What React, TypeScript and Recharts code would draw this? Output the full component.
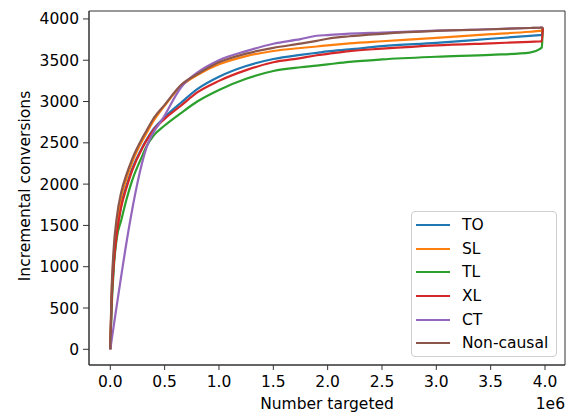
import { Label, Line, LineChart, ReferenceArea, XAxis, YAxis } from "recharts";

// number targeted (raw counts)
const targeted = [
  0, 10000, 30000, 60000, 100000, 150000, 200000, 300000, 330000, 400000, 500000,
  650000, 800000, 1000000, 1250000, 1500000, 1750000, 1900000, 2000000, 2200000,
  2500000, 3000000, 3500000, 3860000, 3950000, 3970000, 3980000,
];

const to = [
  0, 500, 1000, 1400, 1750, 1985, 2180, 2460, 2530, 2670, 2810, 2985, 3150, 3300,
  3430, 3515, 3565, 3590, 3607, 3631, 3670, 3710, 3760, 3795, 3803, 3805, 3895,
];
const sl = [
  0, 580, 1100, 1500, 1840, 2070, 2260, 2540, 2610, 2770, 2950, 3185, 3320, 3450,
  3550, 3612, 3648, 3666, 3680, 3704, 3730, 3770, 3815, 3845, 3855, 3858, 3895,
];
const tl = [
  0, 420, 950, 1350, 1560, 1820, 2040, 2360, 2450, 2590, 2710, 2860, 3000, 3140,
  3275, 3370, 3415, 3435, 3450, 3480, 3510, 3542, 3565, 3592, 3635, 3655, 3895,
];
const xl = [
  0, 500, 1000, 1400, 1720, 1960, 2160, 2450, 2520, 2660, 2790, 2950, 3110, 3250,
  3380, 3475, 3525, 3560, 3577, 3611, 3640, 3680, 3705, 3722, 3727, 3728, 3895,
];
const ct = [
  0, null, null, null, null, null, null, null, 2430, null, 2830, 3170, 3350, 3501,
  3610, 3700, 3755, 3796, 3805, 3822, 3835, 3858, 3875, 3890, 3893, 3895, 3895,
];
const nonCausal = [
  0, 620, 1200, 1600, 1900, 2120, 2300, 2570, 2640, 2800, 2960, 3200, 3330, 3475,
  3580, 3650, 3700, 3735, 3760, 3790, 3820, 3855, 3875, 3890, 3893, 3895, 3895,
];

const xTicks = [0, 500000, 1000000, 1500000, 2000000, 2500000, 3000000, 3500000, 4000000];
const yTicks = [0, 500, 1000, 1500, 2000, 2500, 3000, 3500, 4000];

const series = [
  { key: "TO", values: to, color: "#1f77b4" },
  { key: "SL", values: sl, color: "#ff7f0e" },
  { key: "TL", values: tl, color: "#2ca02c" },
  { key: "XL", values: xl, color: "#d62728" },
  { key: "CT", values: ct, color: "#9467bd" },
  { key: "Non-causal", values: nonCausal, color: "#8c564b" },
];

const rows = targeted.map((x, i) => {
  const row: Record<string, number | null> = { x };
  series.forEach((s) => {
    row[s.key] = s.values[i];
  });
  return row;
});

const FONT = "DejaVu Sans";
const FS = 15.5;
const X_DOMAIN: [number, number] = [-196000, 4184000];
const Y_DOMAIN: [number, number] = [-190, 4096];

function LegendBox() {
  return (
    <div
      style={{
        position: "absolute",
        left: 411,
        top: 211,
        width: 146,
        height: 146,
        border: "1px solid #d0d0d0",
        borderRadius: 4,
        background: "rgba(255,255,255,0.8)",
        boxSizing: "border-box",
        paddingTop: 1,
      }}
    >
      {series.map((s) => (
        <div key={s.key} style={{ display: "flex", alignItems: "center", height: 23.7 }}>
          <svg width={38} height={10} style={{ marginLeft: 4 }}>
            <line x1={0} x2={34} y1={5} y2={5} stroke={s.color} strokeWidth={2.2} />
          </svg>
          <span style={{ fontFamily: FONT, fontSize: FS, color: "#000", marginLeft: 8 }}>
            {s.key}
          </span>
        </div>
      ))}
    </div>
  );
}

export default function App() {
  return (
    <div style={{ position: "absolute", left: 0, top: 0, width: 572, height: 419, background: "#fff" }}>
      <LineChart
        width={572}
        height={419}
        data={rows}
        margin={{ top: 11, right: 7, bottom: 0, left: 0 }}
      >
        <XAxis
          dataKey="x"
          type="number"
          domain={X_DOMAIN}
          ticks={xTicks}
          allowDataOverflow
          height={54}
          tickFormatter={(v) => (v / 1000000).toFixed(1)}
          tick={{ fill: "#000", fontSize: FS, fontFamily: FONT }}
          tickSize={5}
          tickMargin={6}
          stroke="#333"
        >
          <Label
            value="Number targeted"
            position="insideBottom"
            offset={10.5}
            style={{ fill: "#000", fontSize: FS, fontFamily: FONT }}
          />
          <Label
            value="1e6"
            position={{ x: 476, y: 43.5 }}
            style={{ fill: "#000", fontSize: FS, fontFamily: FONT }}
          />
        </XAxis>
        <YAxis
          type="number"
          domain={Y_DOMAIN}
          ticks={yTicks}
          allowDataOverflow
          width={89}
          tick={{ fill: "#000", fontSize: FS, fontFamily: FONT }}
          tickSize={6}
          tickMargin={4}
          stroke="#333"
        >
          <Label
            content={() => (
              <text
                x={25}
                y={186}
                transform="rotate(-90 25 186)"
                textAnchor="middle"
                dominantBaseline="central"
                fill="#000"
                fontSize={FS}
                fontFamily={FONT}
              >
                Incremental conversions
              </text>
            )}
          />
        </YAxis>
        <ReferenceArea
          x1={X_DOMAIN[0]}
          x2={X_DOMAIN[1]}
          y1={Y_DOMAIN[0]}
          y2={Y_DOMAIN[1]}
          fill="none"
          stroke="#333"
          strokeWidth={1}
          ifOverflow="visible"
        />
        {series.map((s) => (
          <Line
            key={s.key}
            dataKey={s.key}
            type="monotone"
            stroke={s.color}
            strokeWidth={2.2}
            dot={false}
            connectNulls
            isAnimationActive={false}
          />
        ))}
      </LineChart>
      <LegendBox />
    </div>
  );
}
